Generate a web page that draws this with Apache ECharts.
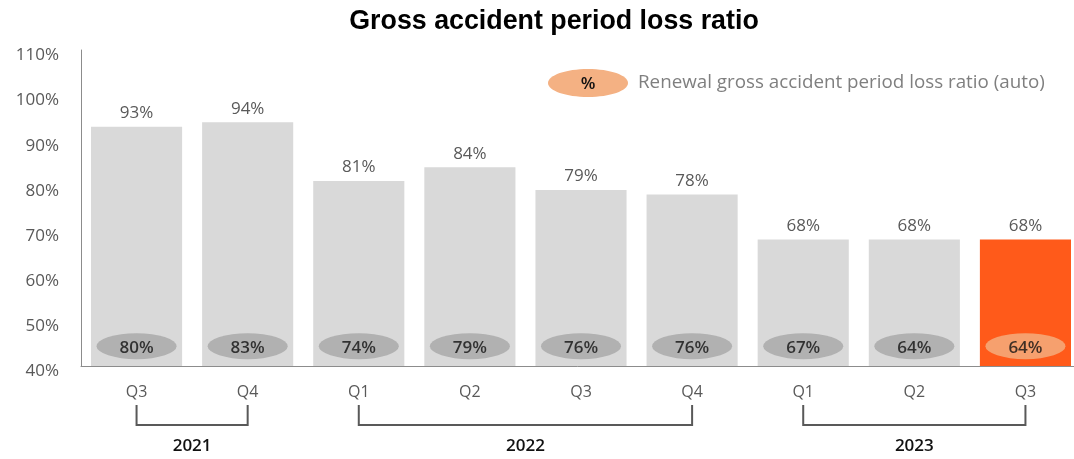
<!DOCTYPE html>
<html><head><meta charset="utf-8">
<script src="https://cdn.jsdelivr.net/npm/echarts@6/dist/echarts.min.js"></script>
<style>html,body{margin:0;padding:0;background:#fff}#c{width:1074px;height:459px}</style>
</head><body><div id="c"></div>
<script>
const quarters = ['Q3','Q4','Q1','Q2','Q3','Q4','Q1','Q2','Q3'];
const lossRatio = [93,94,81,84,79,78,68,68,68];
const renewalRatio = [80,83,74,79,76,76,67,64,64];
const yearGroups = [
  {label:'2021', from:0, to:1},
  {label:'2022', from:2, to:5},
  {label:'2023', from:6, to:8}
];
const yTicks = [40,50,60,70,80,90,100,110];

const FONT = '"Open Sans", sans-serif';
const chart = echarts.init(document.getElementById('c'));
const lastIdx = lossRatio.length - 1;
const ELLIPSE_Y = 44.4;

chart.setOption({
  animation:false,
  title:{text:'Gross accident period loss ratio', left:549, textAlign:'center', top:3,
    textStyle:{fontFamily:'"Liberation Sans", Arial, sans-serif', fontWeight:'bold', fontSize:26.8, color:'#000'}},
  grid:{left:81, top:50, width:1000, height:316, containLabel:false, outerBoundsMode:'none'},
  xAxis:{type:'category', data:quarters,
    axisLine:{show:true, lineStyle:{color:'#8c8c8c', width:1}},
    axisTick:{show:false},
    axisLabel:{color:'#595959', fontFamily:FONT, fontSize:16, margin:18}},
  yAxis:{type:'value', min:yTicks[0], max:yTicks[yTicks.length-1], interval:10,
    axisLine:{show:true, lineStyle:{color:'#8c8c8c', width:1}},
    axisTick:{show:false}, splitLine:{show:false},
    axisLabel:{color:'#595959', fontFamily:FONT, fontSize:17, margin:22,
      formatter:v=>'{a|'+v+'%}',
      rich:{a:{fontFamily:FONT, fontSize:17, color:'#595959', padding:[11,0,0,0]}}}},
  series:[
    {type:'bar', barCategoryGap:'18%',
     data:lossRatio.map((v,i)=>({value:v, itemStyle:{color: i===lastIdx ? '#ff5a1a' : '#d9d9d9'}})),
     label:{show:true, position:'top', distance:5, color:'#595959', fontFamily:FONT, fontSize:17, formatter:p=>p.value+'%'}},
    {type:'scatter', symbol:'circle', symbolSize:[80,26], z:5,
     data:renewalRatio.map((v,i)=>({value:[i, ELLIPSE_Y], rv:v,
        itemStyle:{color: i===lastIdx ? '#f4b183' : '#a6a6a6'}})),
     label:{show:true, position:'inside', color:'#111111', fontFamily:FONT, fontWeight:600, fontSize:17,
        offset:[0,2], formatter:p=>renewalRatio[p.dataIndex]+'%'}}
  ]
});

function drawExtras(){
  const els = [];
  const yTop = 405, yBot = 425;
  yearGroups.forEach(g=>{
    const x1 = chart.convertToPixel({xAxisIndex:0}, g.from);
    const x2 = chart.convertToPixel({xAxisIndex:0}, g.to);
    els.push({type:'polyline', shape:{points:[[x1,yTop],[x1,yBot],[x2,yBot],[x2,yTop]]},
      style:{stroke:'#595959', lineWidth:2, fill:null}});
    els.push({type:'text', x:(x1+x2)/2, y:446, style:{text:g.label, fill:'#111111',
      font:'600 17px "Open Sans", sans-serif', textAlign:'center', textVerticalAlign:'middle'}});
  });
  els.push({type:'ellipse', shape:{cx:588, cy:83, rx:40, ry:14}, style:{fill:'#f4b183'}});
  els.push({type:'text', x:588, y:84, style:{text:'%', fill:'#111111', font:'600 17px "Open Sans", sans-serif',
    textAlign:'center', textVerticalAlign:'middle'}});
  els.push({type:'text', x:638, y:83, style:{text:'Renewal gross accident period loss ratio (auto)', fill:'#7f7f7f',
    font:'18.8px "Open Sans", sans-serif', textAlign:'left', textVerticalAlign:'middle'}});
  chart.setOption({graphic:{elements:els}});
}
drawExtras();
</script></body></html>
